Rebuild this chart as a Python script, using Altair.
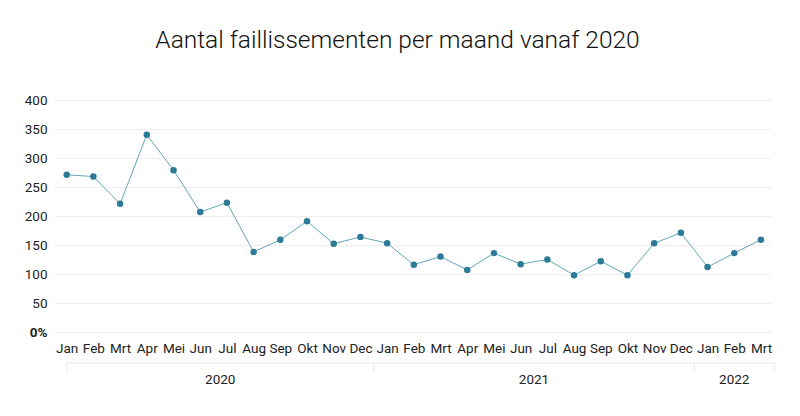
import altair as alt
import pandas as pd

months = ["Jan", "Feb", "Mrt", "Apr", "Mei", "Jun", "Jul", "Aug", "Sep", "Okt", "Nov", "Dec",
          "Jan", "Feb", "Mrt", "Apr", "Mei", "Jun", "Jul", "Aug", "Sep", "Okt", "Nov", "Dec",
          "Jan", "Feb", "Mrt"]
years = [2020] * 12 + [2021] * 12 + [2022] * 3
values = [271, 268, 221, 340, 279, 207, 223, 138, 159, 191, 152, 164,
          153, 116, 130, 107, 136, 117, 125, 98, 122, 98, 153, 171,
          112, 136, 159]
y_ticks = [0, 50, 100, 150, 200, 250, 300, 350, 400]

df = pd.DataFrame({"idx": list(range(len(values))), "month": months, "year": years, "value": values})

# year group spans
year_names = sorted(set(years))
starts, ends = [], []
for y in year_names:
    ids = [i for i, yy in enumerate(years) if yy == y]
    starts.append(max(ids[0] - 0.5, 0))
    ends.append(ids[-1] + 0.5)
ydf = pd.DataFrame({"year": [str(y) for y in year_names], "start": starts, "end": ends,
                    "mid": [(s + e) / 2 for s, e in zip(starts, ends)]})
tick_df = pd.DataFrame({"pos": sorted(set(starts + ends))})

W, H = 717, 232
FONT = "Roboto"
label_arr = "[" + ",".join("'%s'" % m for m in months) + "]"

xscale = alt.Scale(domain=[-0.475, 26.375], nice=False, zero=False)
yscale = alt.Scale(domain=[0, 400], nice=False)
xaxis = alt.Axis(values=list(range(len(months))), labelExpr=label_arr + "[datum.value]",
                 labelOverlap=False, labelFlush=False, labelBound=False,
                 grid=False, ticks=False, domain=False, labelPadding=9, labelFontSize=13.5,
                 labelColor="#222", labelFont=FONT, title=None)
yaxis = alt.Axis(values=y_ticks, labelOverlap=False, labelFlush=False, labelBound=False,
                 labelExpr="datum.value == 0 ? '0%' : datum.label",
                 labelFontWeight=alt.expr("datum.value == 0 ? 'bold' : 'normal'"),
                 grid=True, gridColor="#efefef", gridWidth=1, ticks=False, domain=False,
                 labelPadding=7, labelFontSize=13.5, labelColor="#222", labelFont=FONT, title=None)

base = alt.Chart(df)
line = base.mark_line(color="#62a5ba", strokeWidth=1).encode(
    x=alt.X("idx:Q", scale=xscale, axis=xaxis),
    y=alt.Y("value:Q", scale=yscale, axis=yaxis),
)
pts = base.mark_circle(color="#2b7b96", opacity=1, size=42).encode(
    x=alt.X("idx:Q", scale=xscale, axis=xaxis),
    y=alt.Y("value:Q", scale=yscale, axis=yaxis),
)

hline = alt.Chart(ydf).mark_rule(color="#e6e6e6", strokeWidth=1, clip=False).encode(
    x=alt.X("start:Q", scale=xscale, axis=xaxis), x2="end:Q", y=alt.value(H + 31)
)
vticks = alt.Chart(tick_df).mark_rule(color="#e6e6e6", strokeWidth=1, clip=False).encode(
    x=alt.X("pos:Q", scale=xscale, axis=xaxis), y=alt.value(H + 31), y2=alt.value(H + 40)
)
ylabels = alt.Chart(ydf).mark_text(fontSize=13.5, font=FONT, color="#222", baseline="middle",
                                   clip=False).encode(
    x=alt.X("mid:Q", scale=xscale, axis=xaxis), y=alt.value(H + 48), text="year:N"
)

chart = alt.layer(line, pts, hline, vticks, ylabels).properties(
    width=W, height=H,
    title=alt.TitleParams("Aantal faillissementen per maand vanaf 2020", fontSize=24.5,
                          font=FONT, fontWeight=300, color="#111", anchor="middle",
                          dx=-15, offset=40),
    autosize=alt.AutoSizeParams(type="none"),
    padding={"left": 46, "top": 92, "right": 20, "bottom": 60},
).configure_view(stroke=None)

chart.save("out.html", embed_options={"renderer": "svg", "actions": False})
